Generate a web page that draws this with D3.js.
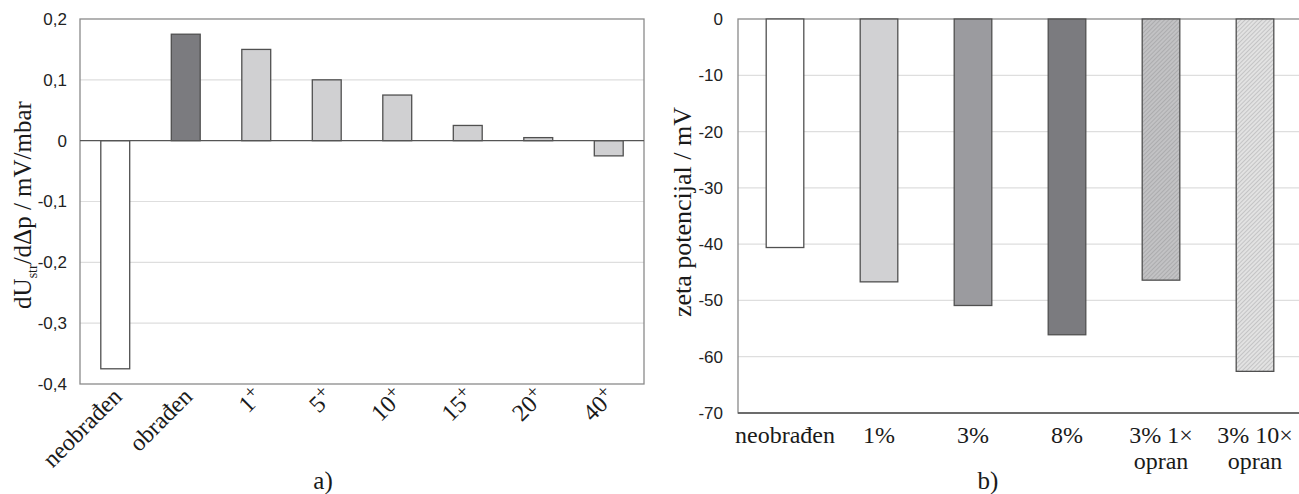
<!DOCTYPE html>
<html>
<head>
<meta charset="utf-8">
<script src="https://cdn.jsdelivr.net/npm/d3@7"></script>
<style>
  body { margin: 0; background: #fff; }
  svg { display: block; }
</style>
</head>
<body>
<svg width="1299" height="494"></svg>
<script>
// chart a) streaming potential slope
const catsA = ["neobrađen", "obrađen", "1", "5", "10", "15", "20", "40"];
const valsA = [-0.375, 0.175, 0.15, 0.1, 0.075, 0.025, 0.005, -0.025];
const fillA = ["#ffffff", "#7b7b7f", "#d0d0d2", "#d0d0d2", "#d0d0d2", "#d0d0d2", "#d0d0d2", "#d0d0d2"];
const ticksA = [-0.4, -0.3, -0.2, -0.1, 0, 0.1, 0.2];

// chart b) zeta potential
const catsB = ["neobrađen", "1%", "3%", "8%", "3% 1×|opran", "3% 10×|opran"];
const valsB = [-40.6, -46.7, -50.9, -56.1, -46.4, -62.6];
const fillB = ["#ffffff", "#d1d1d3", "#9b9b9f", "#7b7b7f", "url(#hatchDark)", "url(#hatchLight)"];
const ticksB = [-70, -60, -50, -40, -30, -20, -10, 0];

const SERIF = "'Liberation Serif', 'Times New Roman', serif";
const SANS = "'Liberation Sans', Arial, sans-serif";

const svg = d3.select("svg");
const defs = svg.append("defs");

function hatch(id, bg, line) {
    const p = defs.append("pattern")
        .attr("id", id)
        .attr("patternUnits", "userSpaceOnUse")
        .attr("width", 3)
        .attr("height", 3)
        .attr("patternTransform", "rotate(45)");
    p.append("rect").attr("width", 3).attr("height", 3).attr("fill", bg);
    p.append("line").attr("x1", 0).attr("y1", 0).attr("x2", 0).attr("y2", 3)
        .attr("stroke", line).attr("stroke-width", 1.1);
}
hatch("hatchDark", "#c2c2c4", "#9a9a9c");
hatch("hatchLight", "#e2e2e2", "#acacae");

const comma = d => d === 0 ? "0" : d3.format(".1f")(d).replace(".", ",").replace("−", "-");

function styleTicks(g) {
    g.select(".domain").remove();
    g.selectAll(".tick text")
        .attr("font-family", SANS)
        .attr("font-size", 17)
        .attr("fill", "#222");
}

// ---------- a) ----------
const xA = d3.scaleBand().domain(catsA).range([80, 644]).paddingInner(0.59).paddingOuter(0.295);
const yA = d3.scaleLinear().domain([-0.4, 0.2]).range([384, 19]);

const gA = svg.append("g");

gA.append("g")
    .selectAll("line")
    .data(ticksA.filter(t => t !== 0 && t !== -0.4 && t !== 0.2))
    .enter()
    .append("line")
    .attr("x1", 80).attr("x2", 644)
    .attr("y1", d => yA(d)).attr("y2", d => yA(d))
    .attr("stroke", "#dedede").attr("stroke-width", 1.2);

gA.append("rect")
    .attr("x", 80).attr("y", yA(0.2))
    .attr("width", 564).attr("height", yA(-0.4) - yA(0.2))
    .attr("fill", "none").attr("stroke", "#8a8a8a").attr("stroke-width", 1.3);

gA.append("g")
    .selectAll("rect")
    .data(catsA)
    .enter()
    .append("rect")
    .attr("x", d => xA(d))
    .attr("width", xA.bandwidth())
    .attr("y", (d, i) => yA(Math.max(0, valsA[i])))
    .attr("height", (d, i) => Math.abs(yA(valsA[i]) - yA(0)))
    .attr("fill", (d, i) => fillA[i])
    .attr("stroke", "#505050").attr("stroke-width", 1.3);

gA.append("line")
    .attr("x1", 80).attr("x2", 644)
    .attr("y1", yA(0)).attr("y2", yA(0))
    .attr("stroke", "#555").attr("stroke-width", 1.3);

gA.append("g")
    .attr("transform", "translate(80,0)")
    .call(d3.axisLeft(yA).tickValues(ticksA).tickFormat(comma).tickSize(0).tickPadding(13))
    .call(styleTicks);

// rotated category labels
const labA = gA.append("g")
    .selectAll("text")
    .data(catsA)
    .enter()
    .append("text")
    .attr("font-family", SERIF)
    .attr("fill", "#1a1a1a")
    .attr("font-size", 24)
    .attr("text-anchor", "end")
    .attr("transform", d => `translate(${xA(d) + xA.bandwidth() / 2 + 8},${398}) rotate(-45)`);
labA.append("tspan").text(d => d);
labA.filter((d, i) => i > 1)
    .append("tspan")
    .attr("font-size", 19)
    .attr("dy", -8)
    .text("+");

gA.append("text")
    .attr("font-family", SERIF)
    .attr("fill", "#1a1a1a")
    .attr("font-size", 25)
    .attr("transform", "translate(31,205) rotate(-90)")
    .attr("text-anchor", "middle")
    .call(t => {
        t.append("tspan").text("dU");
        t.append("tspan").attr("font-size", 14).attr("dy", 6).text("str");
        t.append("tspan").attr("dy", -6).text("/dΔp / mV/mbar");
    });

gA.append("text")
    .attr("font-family", SERIF)
    .attr("fill", "#1a1a1a")
    .attr("font-size", 25)
    .attr("text-anchor", "middle")
    .attr("x", 323).attr("y", 489)
    .text("a)");

// ---------- b) ----------
const xB = d3.scaleBand().domain(catsB).range([738, 1302]).paddingInner(0.6).paddingOuter(0.3);
const yB = d3.scaleLinear().domain([-70, 0]).range([413, 19]);

const gB = svg.append("g");

gB.append("g")
    .selectAll("line")
    .data(ticksB.filter(t => t !== 0 && t !== -70))
    .enter()
    .append("line")
    .attr("x1", 738).attr("x2", 1302)
    .attr("y1", d => yB(d)).attr("y2", d => yB(d))
    .attr("stroke", "#dedede").attr("stroke-width", 1.2);

gB.append("rect")
    .attr("x", 738).attr("y", yB(0))
    .attr("width", 564).attr("height", yB(-70) - yB(0))
    .attr("fill", "none").attr("stroke", "#8a8a8a").attr("stroke-width", 1.3);

gB.append("g")
    .selectAll("rect")
    .data(catsB)
    .enter()
    .append("rect")
    .attr("x", d => xB(d))
    .attr("width", xB.bandwidth())
    .attr("y", yB(0))
    .attr("height", (d, i) => yB(valsB[i]) - yB(0))
    .attr("fill", (d, i) => fillB[i])
    .attr("stroke", "#505050").attr("stroke-width", 1.3);

gB.append("line")
    .attr("x1", 738).attr("x2", 1302)
    .attr("y1", yB(-70)).attr("y2", yB(-70))
    .attr("stroke", "#555").attr("stroke-width", 1.3);

gB.append("g")
    .attr("transform", "translate(738,0)")
    .call(d3.axisLeft(yB).tickValues(ticksB).tickFormat(d => String(d)).tickSize(0).tickPadding(15))
    .call(styleTicks);

gB.append("g")
    .selectAll("text")
    .data(catsB)
    .enter()
    .append("text")
    .attr("font-family", SERIF)
    .attr("fill", "#1a1a1a")
    .attr("font-size", 24)
    .attr("text-anchor", "middle")
    .attr("x", d => xB(d) + xB.bandwidth() / 2)
    .attr("y", 443)
    .each(function (d) {
        const t = d3.select(this);
        d.split("|").forEach((s, i) => {
            t.append("tspan")
                .attr("x", xB(d) + xB.bandwidth() / 2)
                .attr("dy", i ? 26 : 0)
                .text(s);
        });
    });

gB.append("text")
    .attr("font-family", SERIF)
    .attr("fill", "#1a1a1a")
    .attr("font-size", 26)
    .attr("transform", "translate(691,212) rotate(-90)")
    .attr("text-anchor", "middle")
    .text("zeta potencijal / mV");

gB.append("text")
    .attr("font-family", SERIF)
    .attr("fill", "#1a1a1a")
    .attr("font-size", 25)
    .attr("text-anchor", "middle")
    .attr("x", 988).attr("y", 489)
    .text("b)");
</script>
</body>
</html>
